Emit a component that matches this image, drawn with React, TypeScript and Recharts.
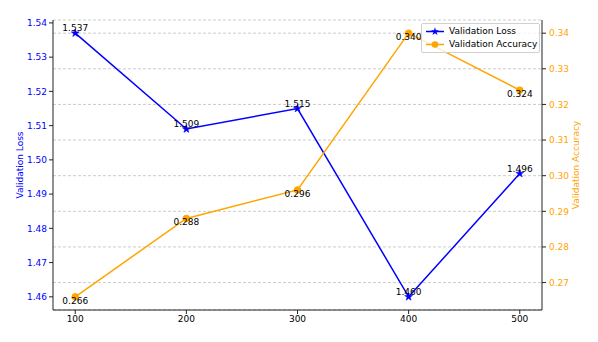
import {
  CartesianGrid,
  LabelList,
  Legend,
  Line,
  LineChart,
  XAxis,
  YAxis,
} from "recharts";

const steps = [100, 200, 300, 400, 500];
const valLoss = [1.537, 1.509, 1.515, 1.46, 1.496];
const valAcc = [0.266, 0.288, 0.296, 0.34, 0.324];

const stepTicks = [100, 200, 300, 400, 500];
const lossTicks = [1.46, 1.47, 1.48, 1.49, 1.5, 1.51, 1.52, 1.53, 1.54];
const accTicks = [0.27, 0.28, 0.29, 0.3, 0.31, 0.32, 0.33, 0.34];

const data = steps.map((step, i) => ({ step, loss: valLoss[i], acc: valAcc[i] }));

const BLUE = "#0000ff";
const ORANGE = "#ffa500";
const FONT = "DejaVu Sans, sans-serif";
const AXIS = "#222";

function starPoints(cx: number, cy: number, r: number) {
  const pts: string[] = [];
  for (let i = 0; i < 10; i++) {
    const rad = i % 2 === 0 ? r : r * 0.4;
    const a = -Math.PI / 2 + (i * Math.PI) / 5;
    pts.push(`${cx + rad * Math.cos(a)},${cy + rad * Math.sin(a)}`);
  }
  return pts.join(" ");
}

const StarDot = (props: any) => {
  const { cx, cy, index } = props;
  if (cx == null || cy == null) return <g key={index} />;
  return <polygon key={index} points={starPoints(cx, cy, 4.2)} fill={BLUE} stroke={BLUE} strokeWidth={0.5} />;
};

const CircleDot = (props: any) => {
  const { cx, cy, index } = props;
  if (cx == null || cy == null) return <g key={index} />;
  return <circle key={index} cx={cx} cy={cy} r={3.3} fill={ORANGE} stroke={ORANGE} />;
};

const valueLabel = (dy: number) => (props: any) => {
  const { x, y, value } = props;
  return (
    <text
      x={x}
      y={y + dy}
      textAnchor="middle"
      dominantBaseline="central"
      fontSize={9}
      fontFamily={FONT}
      fill="#000"
    >
      {Number(value).toFixed(3)}
    </text>
  );
};

const LegendBox = () => (
  <div
    style={{
      border: "1px solid #d0d0d0",
      borderRadius: 2,
      background: "rgba(255,255,255,0.8)",
      padding: "1px 2px 1px 3px",
      fontFamily: FONT,
      fontSize: 9,
      lineHeight: "13px",
      color: "#000",
      whiteSpace: "nowrap",
      display: "inline-block",
    }}
  >
    <div style={{ display: "flex", alignItems: "center" }}>
      <svg width={20} height={13} style={{ marginRight: 4 }}>
        <line x1={1} y1={6.5} x2={19} y2={6.5} stroke={BLUE} strokeWidth={1.5} />
        <polygon points={starPoints(10, 6.5, 4.2)} fill={BLUE} />
      </svg>
      Validation Loss
    </div>
    <div style={{ display: "flex", alignItems: "center" }}>
      <svg width={20} height={13} style={{ marginRight: 4 }}>
        <line x1={1} y1={6.5} x2={19} y2={6.5} stroke={ORANGE} strokeWidth={1.5} />
        <circle cx={10} cy={6.5} r={3.3} fill={ORANGE} />
      </svg>
      Validation Accuracy
    </div>
  </div>
);

export default function App() {
  return (
    <div style={{ margin: -8, width: 598, height: 342, background: "#fff" }}>
      <LineChart width={598} height={342} data={data} margin={{ top: 20, right: 0, bottom: 0, left: 0 }}>
        <CartesianGrid
          yAxisId="right"
          vertical={false}
          stroke="#cccccc"
          strokeDasharray="3 2"
        />
        <XAxis
          dataKey="step"
          type="number"
          domain={[80, 520]}
          ticks={stepTicks}
          height={32}
          tickSize={4}
          tickMargin={2}
          axisLine={{ stroke: AXIS }}
          tickLine={{ stroke: AXIS }}
          tick={{ fill: "#000", fontSize: 9, fontFamily: FONT }}
        />
        <XAxis
          xAxisId="top"
          orientation="top"
          dataKey="step"
          type="number"
          domain={[80, 520]}
          height={0}
          tick={false}
          tickLine={false}
          axisLine={{ stroke: AXIS }}
          label={(p: any) => (
            <text
              x={p.viewBox.x + p.viewBox.width / 2}
              y={12}
              textAnchor="middle"
              dominantBaseline="central"
              fontSize={10.7}
              fontFamily={FONT}
              fill="#000"
            >
              Validation Loss and Accuracy over Steps
            </text>
          )}
        />
        <YAxis
          yAxisId="left"
          orientation="left"
          width={53}
          domain={[1.45615, 1.54085]}
          ticks={lossTicks}
          tickFormatter={(v: number) => v.toFixed(2)}
          tickSize={4}
          tickMargin={2}
          axisLine={{ stroke: AXIS }}
          tickLine={{ stroke: AXIS }}
          tick={{ fill: BLUE, fontSize: 9, fontFamily: FONT }}
          label={(p: any) => {
            const x = p.viewBox.x + 20;
            const y = p.viewBox.y + p.viewBox.height / 2;
            return (
              <text
                x={x}
                y={y}
                transform={`rotate(-90 ${x} ${y})`}
                textAnchor="middle"
                dominantBaseline="central"
                fontSize={9}
                fontFamily={FONT}
                fill={BLUE}
              >
                Validation Loss
              </text>
            );
          }}
        />
        <YAxis
          yAxisId="right"
          orientation="right"
          width={56}
          domain={[0.2623, 0.3437]}
          ticks={accTicks}
          tickFormatter={(v: number) => v.toFixed(2)}
          tickSize={4}
          tickMargin={3}
          axisLine={{ stroke: AXIS }}
          tickLine={{ stroke: AXIS }}
          tick={{ fill: ORANGE, fontSize: 9, fontFamily: FONT }}
          label={(p: any) => {
            const x = p.viewBox.x + 34;
            const y = p.viewBox.y + p.viewBox.height / 2;
            return (
              <text
                x={x}
                y={y}
                transform={`rotate(-90 ${x} ${y})`}
                textAnchor="middle"
                dominantBaseline="central"
                fontSize={9}
                fontFamily={FONT}
                fill={ORANGE}
              >
                Validation Accuracy
              </text>
            );
          }}
        />
        <Legend
          layout="vertical"
          align="center"
          verticalAlign="middle"
          content={<LegendBox />}
          wrapperStyle={{ left: 421, top: 23, width: "auto", height: "auto" }}
        />
        <Line
          yAxisId="left"
          dataKey="loss"
          stroke={BLUE}
          strokeWidth={1.5}
          dot={StarDot}
          activeDot={false}
          isAnimationActive={false}
        >
          <LabelList dataKey="loss" content={valueLabel(-5)} />
        </Line>
        <Line
          yAxisId="right"
          dataKey="acc"
          stroke={ORANGE}
          strokeWidth={1.5}
          dot={CircleDot}
          activeDot={false}
          isAnimationActive={false}
        >
          <LabelList dataKey="acc" content={valueLabel(4)} />
        </Line>
      </LineChart>
    </div>
  );
}
